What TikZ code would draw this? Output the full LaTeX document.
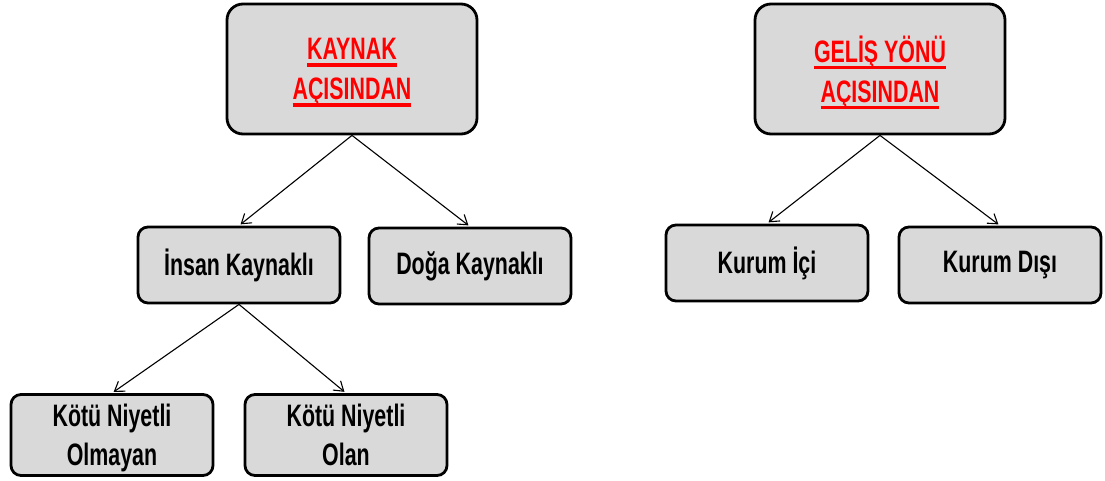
\documentclass[tikz,border=0pt]{standalone}
\usepackage{fontspec}
\setmainfont{Liberation Sans}[FakeStretch=0.69]
\usepackage{tikz}
\usetikzlibrary{arrows.meta, positioning}
\definecolor{boxgray}{RGB}{217, 217, 217}
\definecolor{titlered}{RGB}{255, 0, 0}
\newsavebox{\redlinebox}
\newcommand{\redline}[1]{\sbox{\redlinebox}{#1}\dp\redlinebox=0pt\rule{0pt}{\ht\redlinebox}\smash{\vtop{\copy\redlinebox\kern3.5pt\hrule height 3.4pt}}}

\begin{document}
\begin{tikzpicture}[
    x=1pt, y=-1pt,
    titlebox/.style={draw, line width=2.8pt, rounded corners=16pt, minimum width=250pt, minimum height=130pt, align=center, fill=boxgray, text=titlered, text depth=0pt, font=\fontsize{31}{40}\selectfont\bfseries},
    leafbox/.style={draw, line width=2.8pt, rounded corners=10pt, minimum width=202pt, minimum height=76pt, align=center, fill=boxgray, font=\fontsize{31}{39}\selectfont\bfseries},
    arrow/.style={-{Straight Barb[length=9pt, width=12pt]}, line width=1.1pt, shorten >=2pt}
]
\useasboundingbox (0,0) rectangle (1105,481);

% Top level
\node[titlebox] (kaynak) at (352,69) {\redline{KAYNAK}\\\redline{AÇISINDAN}};
\node[titlebox] (gelis) at (880,69) {\redline{GELİŞ YÖNÜ}\\\redline{AÇISINDAN}};

% Second level
\node[leafbox] (insan) at (239,265) {İnsan Kaynaklı};
\node[leafbox] (doga) at (470,266) {Doğa Kaynaklı};
\node[leafbox] (ici) at (767,263) {Kurum İçi};
\node[leafbox] (disi) at (1000,265) {Kurum Dışı};

% Third level
\node[leafbox, minimum height=81pt, text depth=0pt] (olmayan) at (112,435) {Kötü Niyetli\\Olmayan};
\node[leafbox, minimum height=81pt, text depth=0pt] (olan) at (346,435) {Kötü Niyetli\\Olan};

% Arrows
\draw[arrow] (kaynak.south) -- (insan.north);
\draw[arrow] (kaynak.south) -- (doga.north);
\draw[arrow] (gelis.south) -- (ici.north);
\draw[arrow] (gelis.south) -- (disi.north);
\draw[arrow] (insan.south) -- (olmayan.north);
\draw[arrow] (insan.south) -- (olan.north);

\end{tikzpicture}
\end{document}
